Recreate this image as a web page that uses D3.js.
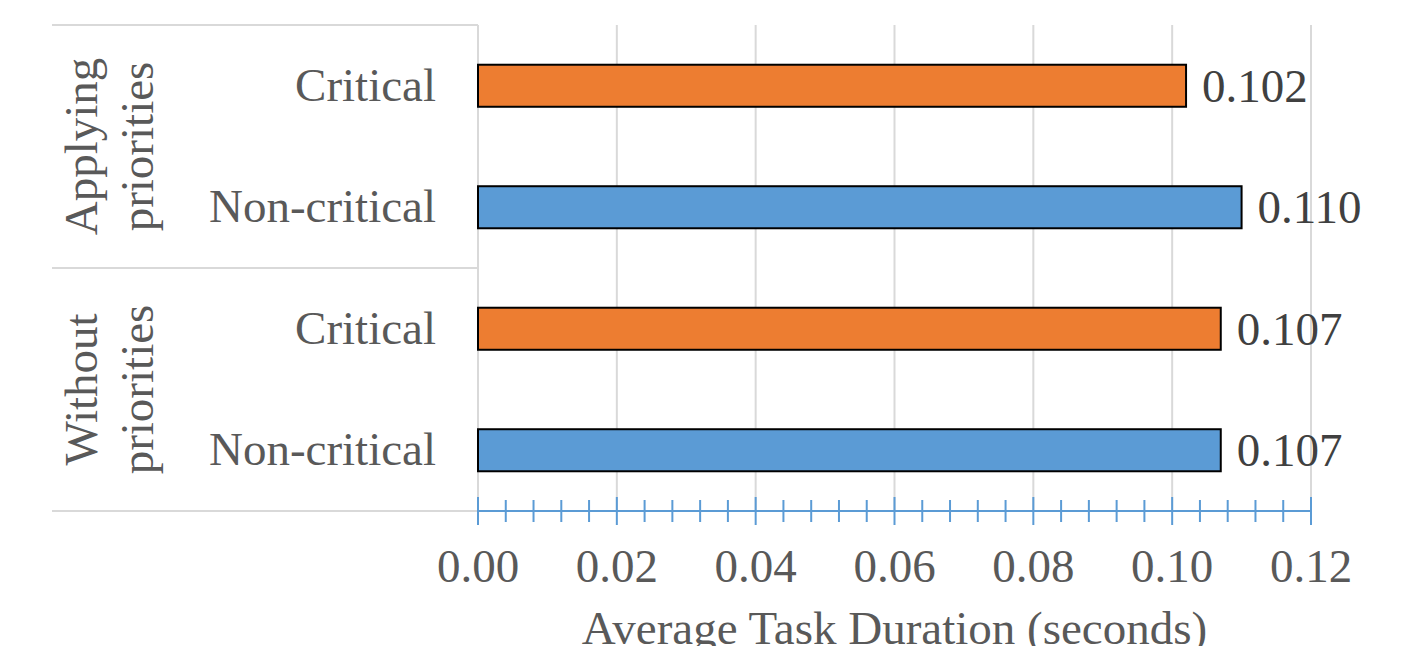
<!DOCTYPE html>
<html><head><meta charset="utf-8">
<script src="https://cdn.jsdelivr.net/npm/d3@7"></script>
<style>html,body{margin:0;padding:0;background:#fff;}svg{display:block;}</style>
</head><body>
<svg id="c" width="1412" height="646"></svg>
<script>
const groups = [["Applying", "priorities"], ["Without", "priorities"]];
const categories = ["Critical", "Non-critical", "Critical", "Non-critical"];
const groupOf = [0, 0, 1, 1];
const values = [0.102, 0.110, 0.107, 0.107];
const colors = ["#ED7D31", "#5B9BD5", "#ED7D31", "#5B9BD5"];
const ticks = [0, 0.02, 0.04, 0.06, 0.08, 0.10, 0.12];

const svg = d3.select("#c");
const font = "'Liberation Serif', 'Times New Roman', serif";
const L = 478, R = 1311, T = 25, B = 511, tableLeft = 52;
const x = d3.scaleLinear().domain([0, 0.12]).range([L, R]);
const y = d3.scaleBand().domain(d3.range(categories.length)).range([T, B]).paddingInner(0.654).paddingOuter(0.327);
const grid = "#d9d9d9";

// gridlines
svg.append("g").selectAll("line").data(ticks).join("line")
  .attr("x1", d => x(d)).attr("x2", d => x(d)).attr("y1", T).attr("y2", B)
  .attr("stroke", grid).attr("stroke-width", 2);

// category table lines
const gY = [T, (y(1) + y.bandwidth() + y(2)) / 2, B];
svg.append("g").selectAll("line").data(gY).join("line")
  .attr("x1", tableLeft).attr("x2", L).attr("y1", d => d).attr("y2", d => d)
  .attr("stroke", grid).attr("stroke-width", 2);

// bars
svg.append("g").selectAll("rect").data(values).join("rect")
  .attr("x", x(0)).attr("y", (d, i) => y(i))
  .attr("width", d => x(d) - x(0)).attr("height", y.bandwidth())
  .attr("fill", (d, i) => colors[i]).attr("stroke", "#000").attr("stroke-width", 2);

// data labels
svg.append("g").selectAll("text").data(values).join("text")
  .attr("x", d => x(d) + 16).attr("y", (d, i) => y(i) + y.bandwidth() / 2 + 16)
  .attr("font-family", font).attr("font-size", 47).attr("fill", "#404040")
  .text(d => d3.format(".3f")(d));

// category labels
svg.append("g").selectAll("text").data(categories).join("text")
  .attr("x", 436).attr("y", (d, i) => y(i) + y.bandwidth() / 2 + 15)
  .attr("text-anchor", "end").attr("font-family", font).attr("font-size", 47).attr("fill", "#595959")
  .text(d => d);

// group labels
groups.forEach((g, gi) => {
  const cy = (gY[gi] + gY[gi + 1]) / 2;
  g.forEach((line, li) => {
    const bx = 97 + li * 56;
    svg.append("text")
      .attr("transform", `translate(${bx},${cy}) rotate(-90)`)
      .attr("text-anchor", "middle").attr("font-family", font).attr("font-size", 47).attr("fill", "#595959")
      .text(line);
  });
});

// x axis
const axisColor = "#5B9BD5";
const ax = svg.append("g");
ax.append("line").attr("x1", L).attr("x2", R).attr("y1", B).attr("y2", B).attr("stroke", axisColor).attr("stroke-width", 2);
const minor = d3.range(0, 31).map(i => i * 0.004).filter((d, i) => i % 5 !== 0);
ax.selectAll("line.minor").data(minor).join("line").attr("class", "minor")
  .attr("x1", d => x(d)).attr("x2", d => x(d)).attr("y1", B - 11).attr("y2", B + 11)
  .attr("stroke", axisColor).attr("stroke-width", 2);
ax.selectAll("line.major").data(ticks).join("line").attr("class", "major")
  .attr("x1", d => x(d)).attr("x2", d => x(d)).attr("y1", B - 14).attr("y2", B + 14)
  .attr("stroke", axisColor).attr("stroke-width", 2);
ax.selectAll("text").data(ticks).join("text")
  .attr("x", d => x(d)).attr("y", 582).attr("text-anchor", "middle")
  .attr("font-family", font).attr("font-size", 47).attr("fill", "#595959")
  .text(d => d3.format(".2f")(d));

svg.append("text").attr("x", (L + R) / 2).attr("y", 644).attr("text-anchor", "middle")
  .attr("font-family", font).attr("font-size", 47).attr("fill", "#595959")
  .text("Average Task Duration (seconds)");
</script>
</body></html>
